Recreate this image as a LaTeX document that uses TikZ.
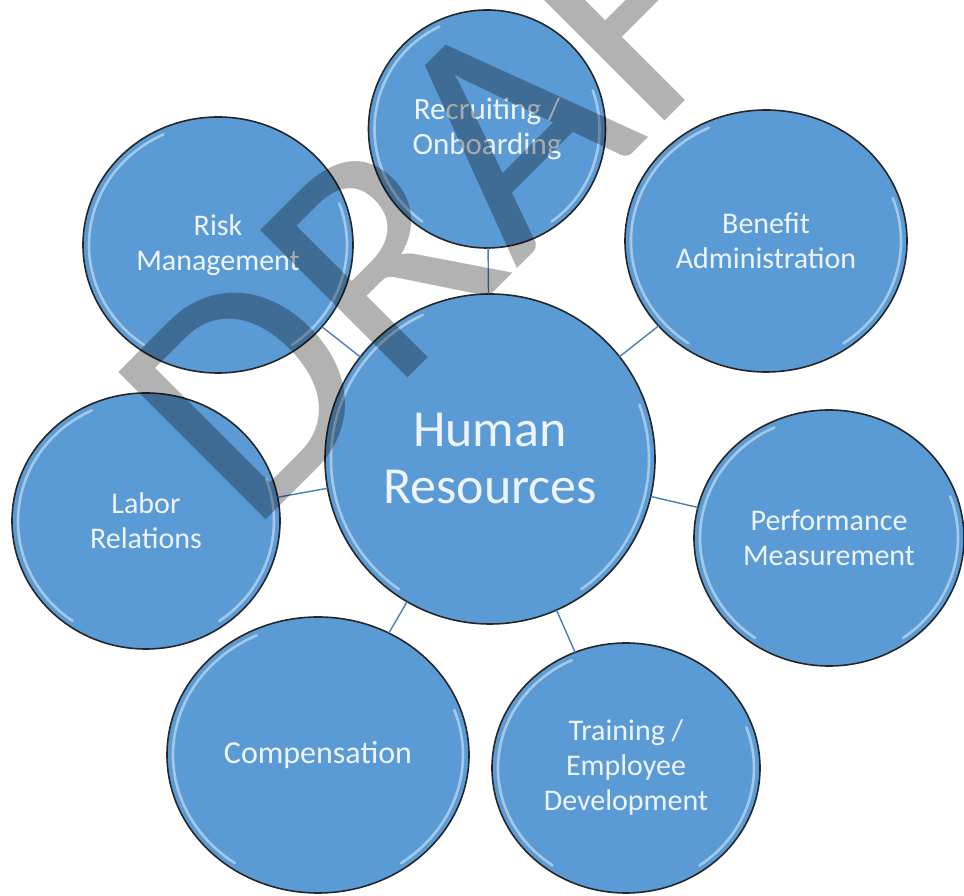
\documentclass[tikz,border=0pt]{standalone}
\usepackage{fontspec}
\setmainfont{Carlito}
\usetikzlibrary{shapes.geometric}
\definecolor{Bubble}{HTML}{5B9BD5}
\definecolor{Spoke}{HTML}{4A7EBB}
\definecolor{Label}{HTML}{EEF4FB}

\begin{document}
\begin{tikzpicture}[x=1pt,y=1pt,
  bubble/.style={ellipse,draw=black!85,line width=1.6pt,fill=Bubble,text=Label,
    align=center,inner sep=0pt,outer sep=0pt},
  rim/.style={white,opacity=.45,line width=2.6pt,line cap=round},
  spoke/.style={Spoke,line width=1.4pt},
  watermark/.style={text=black,text opacity=.3,inner sep=0pt,
    font=\fontsize{325}{325}\selectfont}]
  \useasboundingbox (0,0) rectangle (964,896);

  % hub
  \node[bubble,minimum width=330,minimum height=330,
    font=\fontsize{52}{57}\selectfont] (hr) at (490,437) {Human\\Resources};
  \draw[rim] (490,437) ++(115:159) arc[start angle=115,end angle=235,radius=159];
  \draw[rim] (490,437) ++(-55:159) arc[start angle=-55,end angle=20,radius=159];

  % topics round the hub
  \foreach \nm/\cx/\cy/\w/\h/\fs/\txt in {
      rec/487/767/237/238/31/{Recruiting /\\Onboarding},
      ben/766/655/282/262/30/{Benefit\\Administration},
      perf/829/358/270/256/30/{Performance\\Measurement},
      train/626/128/268/250/30/{Training /\\Employee\\Development},
      comp/318/141/302/276/32/{Compensation},
      labor/146/375/268/256/30/{Labor\\Relations},
      risk/218/651/270/256/30/{Risk\\Management}}{
    \node[bubble,minimum width=\w,minimum height=\h,
      font=\fontsize{\fs}{35}\selectfont] (\nm) at (\cx,\cy) {\txt};
    \draw[rim] (\cx,\cy) ++(115:\w/2-6 and \h/2-6)
      arc[start angle=115,end angle=235,x radius=\w/2-6,y radius=\h/2-6];
    \draw[rim] (\cx,\cy) ++(-55:\w/2-6 and \h/2-6)
      arc[start angle=-55,end angle=20,x radius=\w/2-6,y radius=\h/2-6];
  }

  \foreach \nm in {rec,ben,perf,train,comp,labor,risk}
    \draw[spoke] (hr) -- (\nm);

  % stamp across the page
  \node[watermark,anchor=base west,rotate=45] (draft) at (250,360) {DRAFT};
\end{tikzpicture}
\end{document}
